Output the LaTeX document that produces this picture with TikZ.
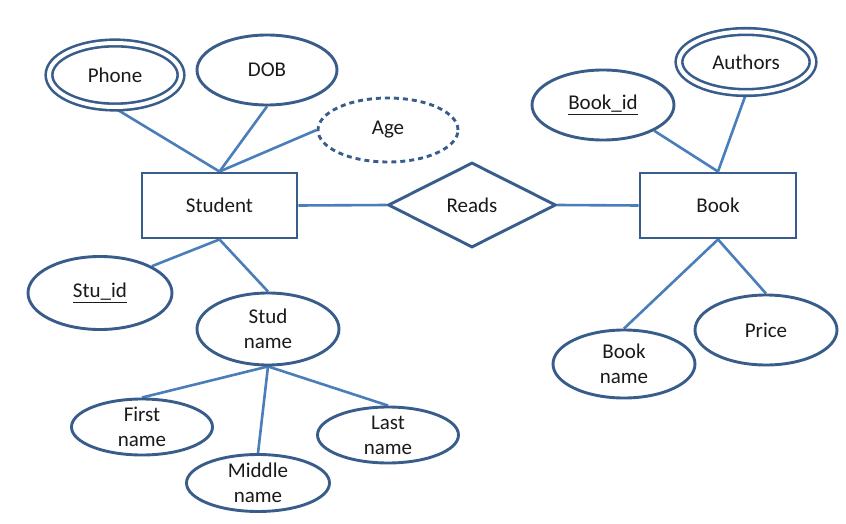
\documentclass[tikz,border=0pt]{standalone}
\usepackage{fontspec}
\setmainfont{Carlito}
\usetikzlibrary{shapes.geometric}
\definecolor{shapeblue}{HTML}{385D8A}
\definecolor{lineblue}{HTML}{4A7EBB}
\definecolor{txt}{HTML}{1A1A1A}
\pgfdeclarelayer{bg}
\pgfsetlayers{bg,main}
\begin{document}
\begin{tikzpicture}[x=1pt,y=-1pt,
  every node/.style={text=txt, font=\fontsize{21}{25}\selectfont, align=center, inner sep=0pt},
  attr/.style={ellipse, draw=shapeblue, line width=2.9pt, fill=white},
  multi/.style={attr, double=white, double distance=4pt, line width=2.6pt},
  derived/.style={attr, dash pattern=on 5pt off 4pt},
  entity/.style={rectangle, draw=shapeblue, line width=2.9pt, fill=white},
  rel/.style={diamond, draw=shapeblue, line width=2.9pt, fill=white},
  conn/.style={draw=lineblue, line width=2.6pt}
]
\useasboundingbox (0,0) rectangle (846,524);

% entities and relationship
\node[entity, minimum width=155pt, minimum height=65pt] (student) at (219.5,205.5) {Student};
\node[entity, minimum width=156pt, minimum height=65pt] (book) at (718,205.5) {Book};
\node[rel, minimum width=168pt, minimum height=85pt] (reads) at (472,205) {Reads};

% student attributes
\node[multi, minimum width=132pt, minimum height=64pt] (phone) at (115,75) {Phone};
\node[attr, minimum width=140pt, minimum height=70pt] (dob) at (267,70) {DOB};
\node[derived, minimum width=140pt, minimum height=64pt] (age) at (388,130) {Age};
\node[attr, minimum width=144pt, minimum height=73pt] (stuid) at (100,293) {\underline{Stu\_id}};
\node[attr, minimum width=142pt, minimum height=72pt] (studname) at (268,329) {Stud\\name};
\node[attr, minimum width=141pt, minimum height=56pt] (first) at (142,427) {First\\name};
\node[attr, minimum width=143pt, minimum height=57pt] (middle) at (258,483) {Middle\\name};
\node[attr, minimum width=141pt, minimum height=56pt] (last) at (388,435) {Last\\name};

% book attributes
\node[attr, minimum width=142pt, minimum height=70pt] (bookid) at (603,105) {\underline{Book\_id}};
\node[multi, minimum width=134pt, minimum height=61pt] (authors) at (746,62) {Authors};
\node[attr, minimum width=142pt, minimum height=68pt] (bookname) at (624,364) {Book\\name};
\node[attr, minimum width=142pt, minimum height=70pt] (price) at (766,330) {Price};

\begin{pgfonlayer}{bg}
\draw[conn] (phone.south) -- (student.north);
\draw[conn] (dob.south) -- (student.north);
\draw[conn] (age.west) -- (student.north);
\draw[conn] (student.south) -- (stuid.north east);
\draw[conn] (student.south) -- (studname.north);
\draw[conn] (studname.south) -- (first.north);
\draw[conn] (studname.south) -- (middle.north);
\draw[conn] (studname.south) -- (last.north);
\draw[conn] (student.east) -- (reads.west);
\draw[conn] (reads.east) -- (book.west);
\draw[conn] (bookid.south east) -- (book.north);
\draw[conn] (authors.south) -- (book.north);
\draw[conn] (book.south) -- (bookname.north);
\draw[conn] (book.south) -- (price.north);
\end{pgfonlayer}
\end{tikzpicture}
\end{document}
